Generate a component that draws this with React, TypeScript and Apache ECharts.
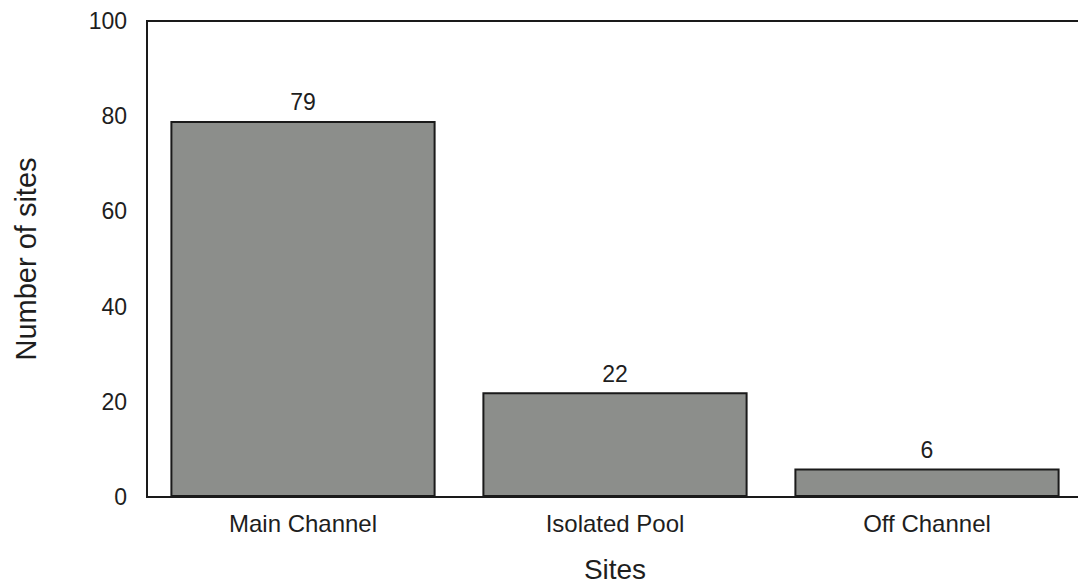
import React, { useEffect, useRef } from "react";
import * as echarts from "echarts";

const categories = ["Main Channel", "Isolated Pool", "Off Channel"];
const siteCounts = [79, 22, 6];
const yTicks = [0, 20, 40, 60, 80, 100];

export default function App() {
  const ref = useRef<HTMLDivElement>(null);
  useEffect(() => {
    if (!ref.current) return;
    const chart = echarts.init(ref.current, null, { renderer: "svg" });
    const font = "'Liberation Sans', Arial, Helvetica, sans-serif";
    chart.setOption({
      animation: false,
      backgroundColor: "#ffffff",
      textStyle: { fontFamily: font },
      grid: {
        left: 147,
        right: 17,
        top: 21,
        bottom: 91,
        show: true,
        borderColor: "#1a1a1a",
        borderWidth: 2,
        backgroundColor: "transparent",
      },
      xAxis: {
        type: "category",
        data: categories,
        name: "Sites",
        nameLocation: "middle",
        nameGap: 58,
        nameTextStyle: { fontSize: 28, color: "#1e1e1e", fontFamily: font },
        axisLine: { show: true, lineStyle: { color: "#1a1a1a", width: 2 } },
        axisTick: { show: false },
        axisLabel: { fontSize: 24, color: "#1e1e1e", margin: 14, fontFamily: font },
        splitLine: { show: false },
      },
      yAxis: {
        type: "value",
        min: yTicks[0],
        max: yTicks[yTicks.length - 1],
        interval: 20,
        name: "Number of sites",
        nameLocation: "middle",
        nameGap: 107,
        nameTextStyle: { fontSize: 29, color: "#1e1e1e", fontFamily: font },
        axisLine: { show: true, lineStyle: { color: "#1a1a1a", width: 2 } },
        axisTick: { show: false },
        axisLabel: { fontSize: 23, color: "#1e1e1e", margin: 20, fontFamily: font },
        splitLine: { show: false },
      },
      series: [
        {
          type: "bar",
          data: siteCounts,
          barCategoryGap: "15%",
          itemStyle: { color: "#8c8e8b", borderColor: "#1a1a1a", borderWidth: 2 },
          label: {
            show: true,
            position: "top",
            distance: 7,
            fontSize: 23,
            color: "#1e1e1e",
            fontFamily: font,
          },
        },
      ],
    });
    return () => chart.dispose();
  }, []);
  return (
    <div
      ref={ref}
      style={{ position: "fixed", left: 0, top: 0, width: 1100, height: 588, background: "#fff" }}
    />
  );
}
